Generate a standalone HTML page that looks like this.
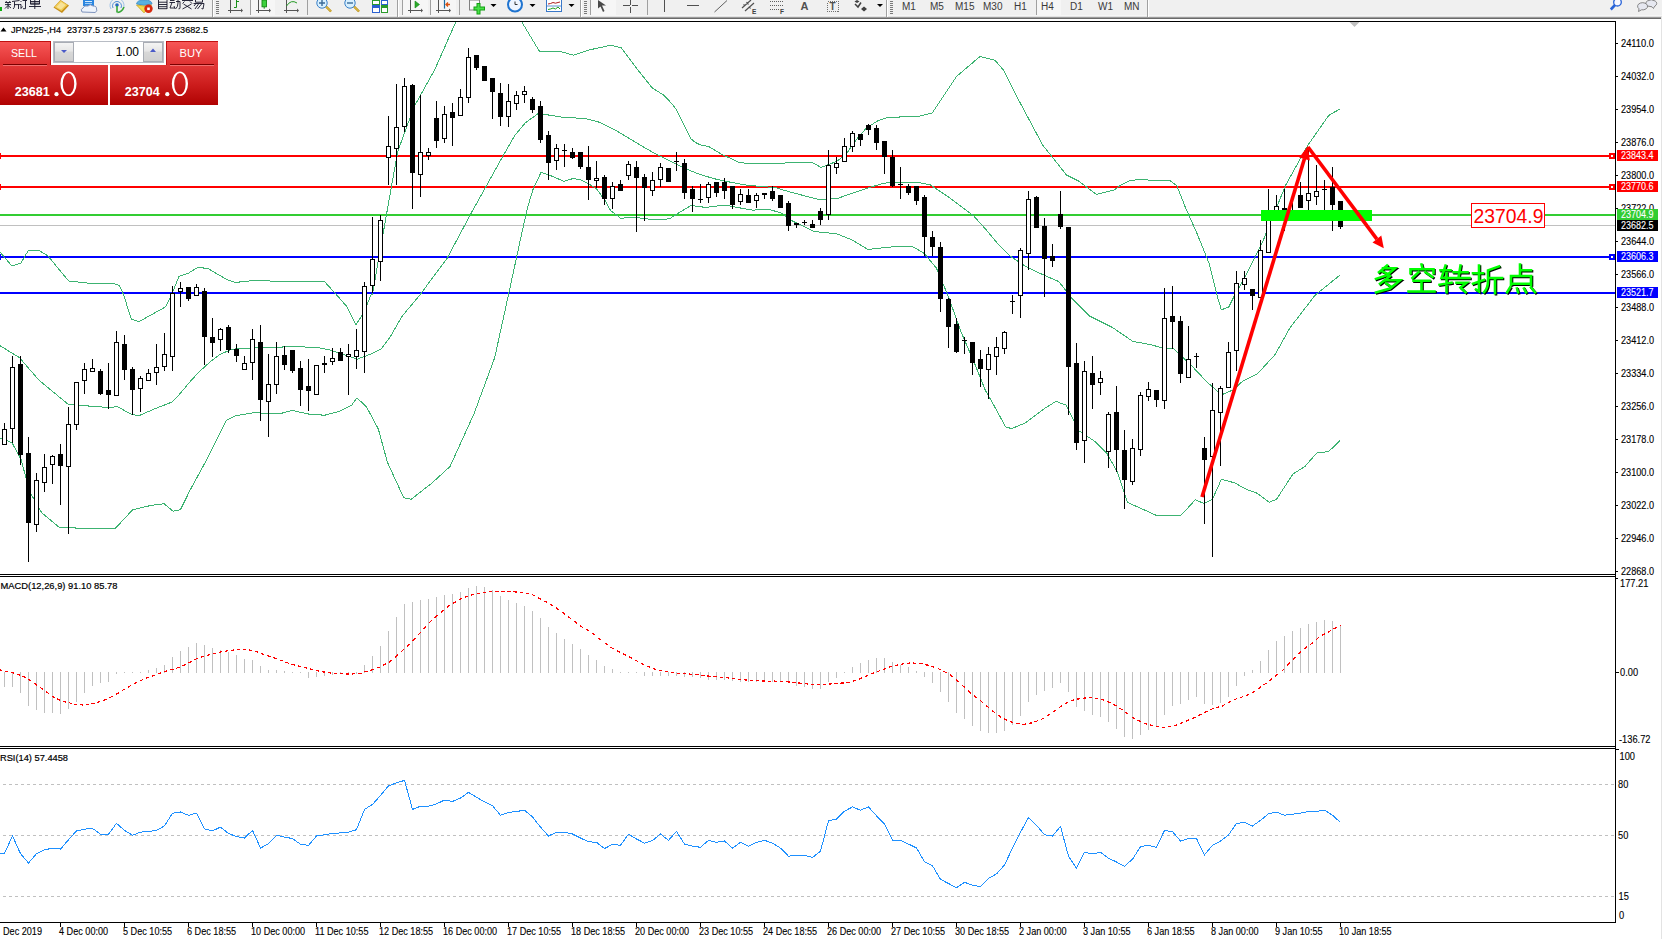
<!DOCTYPE html>
<html><head><meta charset="utf-8"><title>MT4</title><style>
html,body{margin:0;padding:0;width:1662px;height:939px;overflow:hidden;background:#fff;}
svg{position:absolute;left:0;top:0;}
text{font-family:"Liberation Sans",sans-serif;}
</style></head><body>
<svg width="1662" height="939" viewBox="0 0 1662 939">
<defs><clipPath id="cm"><rect x="0" y="22" width="1615" height="552"/></clipPath><clipPath id="cmacd"><rect x="0" y="577" width="1615" height="169"/></clipPath><clipPath id="crsi"><rect x="0" y="749" width="1615" height="173"/></clipPath></defs>
<g id="toolbar">
<rect x="0" y="0" width="1662" height="17" fill="#f0f0f0"/>
<rect x="0" y="15" width="1662" height="1" fill="#f6f6f6"/>
<rect x="0" y="16" width="1662" height="1" fill="#e2e2e2"/>
<rect x="0" y="17" width="1662" height="1" fill="#9a9a9a"/>
<rect x="0" y="18" width="1662" height="1" fill="#6a6a6a"/>
<rect x="0" y="19" width="1662" height="2" fill="#ffffff"/>
<!-- pressed buttons (checker look) -->
<g shape-rendering="crispEdges">
 <rect x="251" y="0" width="24" height="15" fill="#f6f6f6"/>
 <rect x="403" y="0" width="25" height="15" fill="#f6f6f6"/>
 <rect x="431" y="0" width="25" height="15" fill="#f6f6f6"/>
 <rect x="591" y="0" width="25" height="15" fill="#f6f6f6"/>
 <rect x="1037" y="0" width="24" height="15" fill="#f6f6f6"/>
</g>
<!-- new order -->
<rect x="0" y="7" width="2" height="4" fill="#10b010"/>
<g fill="none" stroke="#141428" stroke-width="0.9">
 <path d="M5,2.5 H11 M5,4.6 H11 M8,2.5 V9 M8,5.5 L5,8.5 M8,5.5 L11,8 M6,1 L6.5,2 M10,1 L9.5,2 M12,1.5 L19.5,0.5 M14.5,1.5 V6 Q14.5,8 13,9 M14.5,4.6 H19.5 M18.5,4.6 V9"/>
 <path d="M20.5,1 L21.5,2 M19.5,4.5 H21 V8.5 L22.5,6.5 M22.5,0.5 H27 M25.5,0.5 V8.7 H23"/>
 <path d="M30.5,0 V4.2 H39.5 V0 M30.5,1.5 H39.5 M30.5,3.2 H39.5 M29,6.5 H41 M34.8,0 V9"/>
</g>
<!-- book icon -->
<polygon points="53.5,7.5 60.5,0 69,5.5 62,13" fill="#c8901a"/>
<polygon points="54.5,7 60.5,0.5 67.5,5 61.5,11" fill="#f2cf58"/>
<polygon points="56.5,7 61,2 65.5,5 61,9.5" fill="#f8e39a"/>
<!-- cloud icon -->
<rect x="83" y="0" width="11" height="6" fill="#2b86e0"/>
<rect x="85" y="1" width="7" height="1" fill="#d6ecff"/><rect x="85" y="3" width="7" height="1" fill="#9cccf8"/>
<path d="M82,12 Q80,9 83,8 Q84,5 88,6 Q90,3.5 93,6 Q97,6 96.5,9 Q98,11 95,12.5 Z" fill="#eef3fb" stroke="#7f94bd" stroke-width="1"/>
<!-- signal icon -->
<g fill="none" stroke-width="1">
 <path d="M111,9 A7,7 0 1 1 123,9" stroke="#9fc2e8"/>
 <path d="M113,8 A4.5,4.5 0 1 1 121,8" stroke="#4f8fd4"/>
</g>
<circle cx="117" cy="5" r="1.8" fill="#2468c0"/>
<path d="M117,6 V12.5 M117.5,12.5 Q122,12 124,7" fill="none" stroke="#38a838" stroke-width="1.6"/>
<!-- autotrading icon -->
<path d="M136.5,4 Q137,0 144,0 Q152,0 152,4 Q144,6.5 136.5,4 Z" fill="#58b0e0" stroke="#3a8cc8" stroke-width="0.8"/>
<path d="M136.5,5 Q144,7 151.5,5 L144,12.8 Z" fill="#f2dc50" stroke="#c8a018" stroke-width="0.8"/>
<circle cx="148.5" cy="8.8" r="4.2" fill="#d82a10"/>
<rect x="147.2" y="7.5" width="2.6" height="2.6" fill="#fff"/>
<!-- autotrading text -->
<g fill="none" stroke="#141428" stroke-width="0.9">
 <path d="M158.5,0 V9 M167,0 V9 M158.5,2.2 H167 M158.5,4.5 H167 M158.5,6.7 H167 M158.5,8.7 H167"/>
 <path d="M170,0.5 H174.5 M169.5,2.5 H175 M172,2.5 L170,8 H175 M174,6 L175,8.5 M176,1.5 H180 V8 Q180,9 178.5,8.8 M178,0 V3 Q178,7 175.5,9"/>
 <path d="M182,0.5 H193 M184.5,1.5 L182.5,3.5 M190,1.5 L192,3.5 M183.5,4 L191.5,9 M191.5,4 L182.5,9"/>
 <path d="M195.5,0 V2.2 H202.5 V0 M193.5,3.5 H204 L203,9 L201.5,8.5 M196,3.5 L194,6 M198.5,4 L195,9 M201.5,4 L197.5,9"/>
</g>
<!-- separators -->
<g shape-rendering="crispEdges">
 <rect x="212" y="0" width="1" height="17" fill="#a0a0a0"/><rect x="213" y="0" width="1" height="17" fill="#fff"/>
 <rect x="250" y="0" width="1" height="15" fill="#a0a0a0"/>
 <rect x="307" y="0" width="1" height="15" fill="#a0a0a0"/>
 <rect x="397" y="0" width="1" height="17" fill="#a0a0a0"/><rect x="398" y="0" width="1" height="17" fill="#fff"/>
 <rect x="402" y="0" width="1" height="15" fill="#a0a0a0"/>
 <rect x="430" y="0" width="1" height="15" fill="#a0a0a0"/>
 <rect x="459" y="0" width="1" height="15" fill="#a0a0a0"/>
 <rect x="580" y="0" width="1" height="17" fill="#a0a0a0"/><rect x="581" y="0" width="1" height="17" fill="#fff"/>
 <rect x="590" y="0" width="1" height="15" fill="#a0a0a0"/>
 <rect x="647" y="0" width="1" height="15" fill="#a0a0a0"/>
 <rect x="886" y="0" width="1" height="17" fill="#a0a0a0"/><rect x="887" y="0" width="1" height="17" fill="#fff"/>
 <rect x="1036" y="0" width="1" height="15" fill="#a0a0a0"/>
 <rect x="1147" y="0" width="1" height="17" fill="#a0a0a0"/><rect x="1148" y="0" width="1" height="17" fill="#fff"/>
</g>
<!-- grips -->
<g fill="#7a7a7a" shape-rendering="crispEdges">
 <rect x="216" y="1" width="3" height="1"/><rect x="216" y="3" width="3" height="1"/><rect x="216" y="5" width="3" height="1"/><rect x="216" y="7" width="3" height="1"/><rect x="216" y="9" width="3" height="1"/><rect x="216" y="11" width="3" height="1"/><rect x="216" y="13" width="3" height="1"/>
 <rect x="584" y="1" width="3" height="1"/><rect x="584" y="3" width="3" height="1"/><rect x="584" y="5" width="3" height="1"/><rect x="584" y="7" width="3" height="1"/><rect x="584" y="9" width="3" height="1"/><rect x="584" y="11" width="3" height="1"/><rect x="584" y="13" width="3" height="1"/>
 <rect x="890" y="1" width="3" height="1"/><rect x="890" y="3" width="3" height="1"/><rect x="890" y="5" width="3" height="1"/><rect x="890" y="7" width="3" height="1"/><rect x="890" y="9" width="3" height="1"/><rect x="890" y="11" width="3" height="1"/><rect x="890" y="13" width="3" height="1"/>
</g>
<!-- chart type icons -->
<g fill="none" stroke="#555" stroke-width="1" shape-rendering="crispEdges">
 <path d="M230.5,0 V13 M228,10.5 H241 M258.5,0 V13 M256,10.5 H269 M286.5,0 V13 M284,10.5 H297 M410.5,0 V13 M408,10.5 H421 M438.5,0 V13 M436,10.5 H449"/>
</g>
<g fill="#555">
 <polygon points="241,8.5 243,10.5 241,12.5"/><polygon points="269,8.5 271,10.5 269,12.5"/><polygon points="297,8.5 299,10.5 297,12.5"/>
 <polygon points="421,8.5 423,10.5 421,12.5"/><polygon points="449,8.5 451,10.5 449,12.5"/>
</g>
<path d="M234,7.5 H236.5 V0 M236.5,1.5 H239" fill="none" stroke="#189018" stroke-width="1"/>
<rect x="262" y="0" width="4.5" height="6.8" fill="#3cd03c" stroke="#128812" stroke-width="0.9"/>
<path d="M264.2,6.8 V8.7" stroke="#128812" stroke-width="1"/>
<path d="M286.5,6 Q291,-1 297,3" fill="none" stroke="#229922" stroke-width="1"/>
<polygon points="415,1 419.5,4.5 415,8" fill="#2aa82a" stroke="#168816" stroke-width="0.6"/>
<path d="M444.5,0 V8.6" stroke="#1a6aa0" stroke-width="1.2"/>
<path d="M450,4.5 H446 M448,2.5 L446,4.5 L448,6.5" fill="none" stroke="#d85010" stroke-width="1.3"/>
<!-- zoom icons -->
<g>
 <line x1="326" y1="6.5" x2="331" y2="11.5" stroke="#b88a10" stroke-width="2.4"/>
 <line x1="326" y1="6.5" x2="331" y2="11.5" stroke="#f0d868" stroke-width="1"/>
 <circle cx="322" cy="3" r="5.2" fill="#d8f0ff" stroke="#3a80c8" stroke-width="1"/>
 <path d="M319,3 H325 M322,0 V6" stroke="#3a6a98" stroke-width="1.4"/>
 <line x1="354" y1="6.5" x2="359" y2="11.5" stroke="#b88a10" stroke-width="2.4"/>
 <line x1="354" y1="6.5" x2="359" y2="11.5" stroke="#f0d868" stroke-width="1"/>
 <circle cx="350" cy="3" r="5.2" fill="#d8f0ff" stroke="#3a80c8" stroke-width="1"/>
 <path d="M347,3 H353" stroke="#3a6a98" stroke-width="1.4"/>
</g>
<!-- tile -->
<g shape-rendering="crispEdges">
 <rect x="372" y="0" width="8" height="5" fill="#2a9a2a"/><rect x="373" y="1" width="6" height="3" fill="#fff"/>
 <rect x="381" y="0" width="7" height="5" fill="#2a60d0"/><rect x="382" y="1" width="5" height="3" fill="#fff"/>
 <rect x="372" y="5" width="8" height="8" fill="#2a60d0"/><rect x="373" y="8" width="6" height="4" fill="#fff"/>
 <rect x="381" y="5" width="7" height="8" fill="#2a9a2a"/><rect x="382" y="8" width="5" height="4" fill="#fff"/>
</g>
<!-- indicators -->
<rect x="469.5" y="0" width="10" height="10" fill="#fafafa" stroke="#808080" stroke-width="1"/>
<path d="M473.5,8.5 H485 M478.5,3 V14.5" stroke="#12a012" stroke-width="4"/>
<path d="M474.5,8.5 H484 M478.5,4 V13.5" stroke="#48e048" stroke-width="2"/>
<polygon points="490.5,4 496.5,4 493.5,7" fill="#000"/>
<!-- clock -->
<circle cx="515" cy="4.5" r="7" fill="#eef5ff" stroke="#1f74d0" stroke-width="2"/>
<path d="M515,4.5 V1.5 M515,4.5 H517.5" stroke="#333" stroke-width="1"/>
<polygon points="529.5,4 535.5,4 532.5,7" fill="#000"/>
<!-- templates -->
<rect x="546.5" y="-0.5" width="15" height="12" fill="#fff" stroke="#3a78c8" stroke-width="1"/>
<path d="M547,6 H561" stroke="#3a78c8" stroke-width="0.8"/>
<path d="M548,4 L550.5,3.5 L553,2.5 L555.5,3.2 L558,2.5 L560,2" fill="none" stroke="#b02020" stroke-width="1"/>
<path d="M548,9.5 L550.5,9 L553,8 L555.5,9 L558,7 L560,9" fill="none" stroke="#20a020" stroke-width="1"/>
<polygon points="568.5,4 574.5,4 571.5,7" fill="#000"/>
<!-- drawing tools -->
<polygon points="598,0 598,8.5 600.5,6.5 603,12 604.5,11 602,5.5 606,5.5" fill="#4a4a4a"/>
<path d="M623,5.5 H629.5 M631.5,5.5 H638 M630.5,0 V4.5 M630.5,6.5 V13" stroke="#505050" stroke-width="1" shape-rendering="crispEdges"/>
<path d="M664.5,0 V12" stroke="#505050" stroke-width="1" shape-rendering="crispEdges"/>
<path d="M687,5.5 H699" stroke="#505050" stroke-width="1" shape-rendering="crispEdges"/>
<path d="M714.5,12 L727,0.5" stroke="#606060" stroke-width="1"/>
<path d="M742,8 L751,0 M745,11 L754,3 M743.5,4.5 L745,6 M746.5,2 L748.5,4.5 M749,6.5 L750.5,8.5" stroke="#505050" stroke-width="1.2"/>
<text x="752" y="13.5" font-size="6.5px" font-weight="bold" fill="#404040">E</text>
<path d="M770,1.5 H783 M770,5.5 H783 M770,9.5 H780" stroke="#606060" stroke-width="1" stroke-dasharray="1,1" shape-rendering="crispEdges"/>
<text x="780" y="13.5" font-size="6.5px" font-weight="bold" fill="#404040">F</text>
<text x="800.5" y="10" font-size="11px" font-weight="bold" fill="#505050">A</text>
<rect x="827.5" y="1.5" width="11" height="10" fill="none" stroke="#707070" stroke-width="1" stroke-dasharray="1,1" shape-rendering="crispEdges"/>
<text x="829.5" y="10" font-size="10px" font-weight="bold" fill="#505050">T</text>
<path d="M855,4 L858,7 L861,2.5" fill="none" stroke="#404040" stroke-width="1.5"/>
<polygon points="857,0 859.5,1.5 857,3 854.5,1.5" fill="#404040"/>
<polygon points="864,6.5 867,9 864,11.5 861,9" fill="#404040"/>
<polygon points="877,4 883,4 880,7" fill="#000"/>
<!-- timeframes -->
<g font-size="10px" fill="#3a3a3a">
 <text x="902" y="10">M1</text><text x="930" y="10">M5</text><text x="955" y="10">M15</text><text x="983" y="10">M30</text>
 <text x="1014" y="10">H1</text><text x="1041" y="10">H4</text><text x="1070" y="10">D1</text><text x="1098" y="10">W1</text>
 <text x="1124" y="10">MN</text>
</g>
<!-- search + chat -->
<circle cx="1617.5" cy="2.2" r="3.8" fill="#f8f8ff" stroke="#2a64d8" stroke-width="1.3"/>
<path d="M1615,5 L1610.8,9.5" stroke="#2a64d8" stroke-width="2.6"/>
<path d="M1647.5,6 A5.5,3.5 0 1 1 1655,6 Q1654,7 1653.5,8.5 L1652,6.8 Z" fill="#e6e8f0" stroke="#7a7a7a" stroke-width="0.9"/>
<path d="M1638.5,11.5 L1639,8.8 A5,3.6 0 1 1 1641.5,9.8 Z" fill="#e6e8f0" stroke="#7a7a7a" stroke-width="0.9"/>
</g>
<g shape-rendering="crispEdges" fill="#000"><rect x="0" y="21" width="1616" height="1"/><rect x="0" y="574" width="1616" height="1"/><rect x="0" y="576" width="1616" height="1"/><rect x="0" y="746" width="1616" height="1"/><rect x="0" y="748" width="1616" height="1"/><rect x="0" y="922" width="1616" height="1"/><rect x="1615" y="21" width="1" height="902"/><rect x="1661" y="17" width="1" height="922" fill="#e3e3e3"/></g>
<g shape-rendering="crispEdges" fill="#000"><rect x="1616" y="43" width="2" height="1"/><rect x="1616" y="76" width="2" height="1"/><rect x="1616" y="109" width="2" height="1"/><rect x="1616" y="142" width="2" height="1"/><rect x="1616" y="175" width="2" height="1"/><rect x="1616" y="208" width="2" height="1"/><rect x="1616" y="241" width="2" height="1"/><rect x="1616" y="274" width="2" height="1"/><rect x="1616" y="307" width="2" height="1"/><rect x="1616" y="340" width="2" height="1"/><rect x="1616" y="373" width="2" height="1"/><rect x="1616" y="406" width="2" height="1"/><rect x="1616" y="439" width="2" height="1"/><rect x="1616" y="472" width="2" height="1"/><rect x="1616" y="505" width="2" height="1"/><rect x="1616" y="538" width="2" height="1"/><rect x="1616" y="571" width="2" height="1"/><rect x="1616" y="578" width="2" height="1"/><rect x="1616" y="672" width="3" height="1"/><rect x="1616" y="749" width="3" height="1"/><rect x="60" y="923" width="1" height="4"/><rect x="124" y="923" width="1" height="4"/><rect x="188" y="923" width="1" height="4"/><rect x="252" y="923" width="1" height="4"/><rect x="316" y="923" width="1" height="4"/><rect x="380" y="923" width="1" height="4"/><rect x="444" y="923" width="1" height="4"/><rect x="508" y="923" width="1" height="4"/><rect x="572" y="923" width="1" height="4"/><rect x="636" y="923" width="1" height="4"/><rect x="700" y="923" width="1" height="4"/><rect x="764" y="923" width="1" height="4"/><rect x="828" y="923" width="1" height="4"/><rect x="892" y="923" width="1" height="4"/><rect x="956" y="923" width="1" height="4"/><rect x="1020" y="923" width="1" height="4"/><rect x="1084" y="923" width="1" height="4"/><rect x="1148" y="923" width="1" height="4"/><rect x="1212" y="923" width="1" height="4"/><rect x="1276" y="923" width="1" height="4"/><rect x="1340" y="923" width="1" height="4"/></g>
<g font-size="10.2px" fill="#000" stroke="#000" stroke-width="0.12"><text x="1621" y="46.9" textLength="33" lengthAdjust="spacingAndGlyphs" font-size="10.4px">24110.0</text><text x="1621" y="79.9" textLength="33" lengthAdjust="spacingAndGlyphs" font-size="10.4px">24032.0</text><text x="1621" y="112.9" textLength="33" lengthAdjust="spacingAndGlyphs" font-size="10.4px">23954.0</text><text x="1621" y="145.9" textLength="33" lengthAdjust="spacingAndGlyphs" font-size="10.4px">23876.0</text><text x="1621" y="178.9" textLength="33" lengthAdjust="spacingAndGlyphs" font-size="10.4px">23800.0</text><text x="1621" y="211.9" textLength="33" lengthAdjust="spacingAndGlyphs" font-size="10.4px">23722.0</text><text x="1621" y="244.9" textLength="33" lengthAdjust="spacingAndGlyphs" font-size="10.4px">23644.0</text><text x="1621" y="277.9" textLength="33" lengthAdjust="spacingAndGlyphs" font-size="10.4px">23566.0</text><text x="1621" y="310.9" textLength="33" lengthAdjust="spacingAndGlyphs" font-size="10.4px">23488.0</text><text x="1621" y="343.9" textLength="33" lengthAdjust="spacingAndGlyphs" font-size="10.4px">23412.0</text><text x="1621" y="376.9" textLength="33" lengthAdjust="spacingAndGlyphs" font-size="10.4px">23334.0</text><text x="1621" y="409.9" textLength="33" lengthAdjust="spacingAndGlyphs" font-size="10.4px">23256.0</text><text x="1621" y="442.9" textLength="33" lengthAdjust="spacingAndGlyphs" font-size="10.4px">23178.0</text><text x="1621" y="475.9" textLength="33" lengthAdjust="spacingAndGlyphs" font-size="10.4px">23100.0</text><text x="1621" y="508.9" textLength="33" lengthAdjust="spacingAndGlyphs" font-size="10.4px">23022.0</text><text x="1621" y="541.9" textLength="33" lengthAdjust="spacingAndGlyphs" font-size="10.4px">22946.0</text><text x="1621" y="574.9" textLength="33" lengthAdjust="spacingAndGlyphs" font-size="10.4px">22868.0</text><text x="1620.0" y="586.5" textLength="28.4" lengthAdjust="spacingAndGlyphs">177.21</text><text x="1620.0" y="675.8" textLength="18.1" lengthAdjust="spacingAndGlyphs">0.00</text><text x="1619.0" y="743.2" textLength="31.5" lengthAdjust="spacingAndGlyphs">-136.72</text><text x="1619.5" y="759.6" textLength="15.5" lengthAdjust="spacingAndGlyphs">100</text><text x="1618.0" y="788.2" textLength="10.3" lengthAdjust="spacingAndGlyphs">80</text><text x="1618.0" y="839.2" textLength="10.3" lengthAdjust="spacingAndGlyphs">50</text><text x="1618.5" y="900.2" textLength="10.3" lengthAdjust="spacingAndGlyphs">15</text><text x="1619.0" y="919.3" textLength="5.2" lengthAdjust="spacingAndGlyphs">0</text><text x="3" y="935" font-size="10.2px" textLength="39.0" lengthAdjust="spacingAndGlyphs">Dec 2019</text><text x="59" y="935" font-size="10.2px" textLength="49.1" lengthAdjust="spacingAndGlyphs">4 Dec 00:00</text><text x="123" y="935" font-size="10.2px" textLength="49.1" lengthAdjust="spacingAndGlyphs">5 Dec 10:55</text><text x="187" y="935" font-size="10.2px" textLength="49.1" lengthAdjust="spacingAndGlyphs">6 Dec 18:55</text><text x="251" y="935" font-size="10.2px" textLength="54.1" lengthAdjust="spacingAndGlyphs">10 Dec 00:00</text><text x="315" y="935" font-size="10.2px" textLength="53.5" lengthAdjust="spacingAndGlyphs">11 Dec 10:55</text><text x="379" y="935" font-size="10.2px" textLength="54.1" lengthAdjust="spacingAndGlyphs">12 Dec 18:55</text><text x="443" y="935" font-size="10.2px" textLength="54.1" lengthAdjust="spacingAndGlyphs">16 Dec 00:00</text><text x="507" y="935" font-size="10.2px" textLength="54.1" lengthAdjust="spacingAndGlyphs">17 Dec 10:55</text><text x="571" y="935" font-size="10.2px" textLength="54.1" lengthAdjust="spacingAndGlyphs">18 Dec 18:55</text><text x="635" y="935" font-size="10.2px" textLength="54.1" lengthAdjust="spacingAndGlyphs">20 Dec 00:00</text><text x="699" y="935" font-size="10.2px" textLength="54.1" lengthAdjust="spacingAndGlyphs">23 Dec 10:55</text><text x="763" y="935" font-size="10.2px" textLength="54.1" lengthAdjust="spacingAndGlyphs">24 Dec 18:55</text><text x="827" y="935" font-size="10.2px" textLength="54.1" lengthAdjust="spacingAndGlyphs">26 Dec 00:00</text><text x="891" y="935" font-size="10.2px" textLength="54.1" lengthAdjust="spacingAndGlyphs">27 Dec 10:55</text><text x="955" y="935" font-size="10.2px" textLength="54.1" lengthAdjust="spacingAndGlyphs">30 Dec 18:55</text><text x="1019" y="935" font-size="10.2px" textLength="47.6" lengthAdjust="spacingAndGlyphs">2 Jan 00:00</text><text x="1083" y="935" font-size="10.2px" textLength="47.6" lengthAdjust="spacingAndGlyphs">3 Jan 10:55</text><text x="1147" y="935" font-size="10.2px" textLength="47.6" lengthAdjust="spacingAndGlyphs">6 Jan 18:55</text><text x="1211" y="935" font-size="10.2px" textLength="47.6" lengthAdjust="spacingAndGlyphs">8 Jan 00:00</text><text x="1275" y="935" font-size="10.2px" textLength="47.6" lengthAdjust="spacingAndGlyphs">9 Jan 10:55</text><text x="1339" y="935" font-size="10.2px" textLength="52.6" lengthAdjust="spacingAndGlyphs">10 Jan 18:55</text></g>
<g clip-path="url(#cm)">
<g shape-rendering="crispEdges"><rect x="0" y="225" width="1615" height="1" fill="#c0c0c0"/><rect x="0" y="155" width="1615" height="2" fill="#ff0000"/><rect x="0" y="186" width="1615" height="2" fill="#ff0000"/><rect x="0" y="214" width="1615" height="2" fill="#32cd32"/><rect x="0" y="256" width="1615" height="2" fill="#0000ff"/><rect x="0" y="292" width="1615" height="2" fill="#0000ff"/></g>
<polyline points="0.0,252.0 11.9,266.0 20.9,263.0 28.3,250.5 38.8,250.5 47.7,255.6 68.6,281.0 86.5,283.0 114.8,284.0 119.3,285.4 123.7,295.0 131.2,318.9 138.7,321.8 165.5,306.9 171.5,295.0 178.9,276.4 187.9,273.5 198.3,267.0 208.7,269.0 226.6,279.4 235.6,282.4 256.4,280.3 280.0,281.5 324.7,281.8 336.7,295.0 347.1,306.9 356.0,324.8 363.5,312.9 371.0,295.0 372.4,294.3 382.9,234.7 390.3,193.0 397.8,151.2 414.2,106.5 435.0,69.2 456.0,21.5" fill="none" stroke="#3cb371" stroke-width="1" shape-rendering="crispEdges"/>
<polyline points="521.5,21.5 539.4,51.3 560.0,51.3 573.4,55.2 589.8,49.8 610.7,45.3 621.1,47.7 637.9,70.0 652.4,88.1 664.0,95.3 668.6,100.0 676.0,108.9 683.5,123.8 690.9,138.7 695.4,142.5 700.0,144.7 709.3,146.8 722.1,154.5 740.0,162.8 752.8,163.5 792.0,162.9 812.9,162.9 821.1,167.4 836.7,161.4 845.7,154.7 856.1,139.8 866.6,127.9 878.5,120.4 888.9,117.2 917.3,116.7 932.2,113.0 956.3,76.7 980.1,56.4 995.1,60.3 1004.0,70.7 1018.9,100.5 1042.8,145.2 1066.6,175.1 1078.5,181.0 1096.4,194.4 1114.3,190.0 1120.0,185.5 1128.9,181.0 1137.9,179.5 1155.8,180.4 1169.2,180.1 1176.7,185.5 1185.6,207.9 1197.5,234.7 1209.5,264.5 1216.9,295.0 1221.4,309.9 1228.8,306.9 1234.8,295.0 1245.2,276.4 1263.1,240.7 1285.5,185.5 1307.9,145.2 1328.7,115.4 1340.1,108.9" fill="none" stroke="#3cb371" stroke-width="1" shape-rendering="crispEdges"/>
<polyline points="0.0,345.7 19.4,357.6 38.8,380.0 68.6,404.7 79.0,405.3 107.3,407.4 117.8,406.8 131.2,414.3 138.7,415.8 153.4,409.4 172.5,401.8 180.6,393.0 189.6,382.2 198.7,372.3 209.6,362.3 220.4,354.2 232.3,349.2 253.5,347.8 280.0,347.2 292.0,346.3 318.8,347.8 330.7,350.2 348.6,356.1 357.5,359.1 369.5,354.6 381.4,348.7 390.3,336.7 402.3,315.9 418.7,296.5 447.0,258.5 470.8,213.8 504.0,154.2 514.9,135.2 525.7,122.5 538.4,113.4 563.7,117.4 585.4,118.5 600.0,122.4 614.9,129.8 629.8,138.7 644.7,147.7 656.6,154.4 667.0,159.6 683.5,167.8 692.4,171.5 700.0,174.5 714.5,178.8 732.3,182.6 747.0,185.2 775.8,187.7 788.6,191.6 808.0,196.7 818.8,199.5 836.7,198.7 851.6,193.5 869.5,187.5 884.5,183.1 896.4,182.3 917.3,182.3 930.4,184.9 948.8,197.2 973.3,215.5 985.5,229.0 997.8,243.7 1010.0,256.0 1024.7,265.8 1039.4,273.1 1059.0,281.7 1071.3,297.9 1089.2,315.8 1112.2,327.3 1132.7,341.3 1153.1,345.2 1163.3,348.5 1173.6,348.5 1191.5,365.6 1206.5,381.5 1221.4,394.9 1233.3,389.8 1242.3,381.5 1257.2,374.0 1275.1,354.6 1290.0,327.8 1315.3,295.0 1340.1,275.0" fill="none" stroke="#3cb371" stroke-width="1" shape-rendering="crispEdges"/>
<polyline points="0.0,438.0 11.9,442.6 20.9,459.0 29.8,491.8 41.7,512.7 59.6,527.6 114.8,529.0 132.7,509.7 152.0,505.2 164.0,503.7 173.0,511.2 180.4,509.7 190.8,488.8 208.7,456.0 226.6,420.2 235.6,415.8 253.5,412.8 280.0,413.7 292.0,410.4 309.8,414.3 324.7,415.2 339.6,411.3 351.6,405.3 356.9,397.9 366.5,406.8 378.4,429.2 387.3,462.0 403.7,497.8 411.2,499.3 432.1,482.9 450.0,466.5 473.8,414.3 494.7,357.6 508.1,296.5 520.3,240.0 527.5,207.6 533.0,189.5 541.1,172.3 549.2,175.0 563.7,181.3 572.8,178.6 580.0,179.5 589.0,184.0 596.3,188.6 605.4,201.0 610.4,210.3 620.9,218.5 625.3,217.7 637.3,217.7 649.2,219.2 661.1,220.0 670.0,218.5 680.5,211.8 690.9,205.5 700.0,206.6 705.5,207.5 724.7,205.0 737.5,207.5 752.8,210.1 769.4,209.5 782.2,213.3 789.9,219.7 808.0,228.6 814.4,231.5 836.7,233.8 851.6,239.7 868.0,249.4 896.4,246.4 912.0,246.2 924.3,253.5 936.5,268.2 948.8,297.6 961.0,331.9 975.7,366.2 985.5,390.7 996.5,410.0 1005.5,426.8 1011.5,428.6 1024.9,423.2 1045.7,407.7 1056.0,401.4 1066.2,405.2 1079.0,430.8 1094.3,441.0 1107.1,453.8 1117.3,471.7 1127.6,502.4 1155.7,515.1 1181.2,515.1 1195.3,499.8 1204.2,503.6 1212.4,499.3 1221.4,479.3 1234.8,482.9 1245.2,488.8 1257.2,493.3 1269.1,502.2 1276.5,499.3 1293.0,473.9 1304.9,466.5 1316.8,453.0 1328.7,451.5 1340.1,440.5" fill="none" stroke="#3cb371" stroke-width="1" shape-rendering="crispEdges"/>
<g shape-rendering="crispEdges" fill="#000">
<rect x="4" y="423" width="1" height="22"/>
<rect x="2" y="429" width="5" height="16"/>
<rect x="3" y="430" width="3" height="14" fill="#fff"/>
<rect x="12" y="356" width="1" height="87"/>
<rect x="10" y="367" width="5" height="62"/>
<rect x="11" y="368" width="3" height="60" fill="#fff"/>
<rect x="20" y="356" width="1" height="109"/>
<rect x="18" y="364" width="5" height="91"/>
<rect x="28" y="437" width="1" height="125"/>
<rect x="26" y="453" width="5" height="70"/>
<rect x="36" y="473" width="1" height="59"/>
<rect x="34" y="480" width="5" height="45"/>
<rect x="35" y="481" width="3" height="43" fill="#fff"/>
<rect x="44" y="454" width="1" height="38"/>
<rect x="42" y="467" width="5" height="16"/>
<rect x="43" y="468" width="3" height="14" fill="#fff"/>
<rect x="52" y="455" width="1" height="29"/>
<rect x="50" y="456" width="5" height="9"/>
<rect x="51" y="457" width="3" height="7" fill="#fff"/>
<rect x="60" y="444" width="1" height="61"/>
<rect x="58" y="454" width="5" height="12"/>
<rect x="68" y="407" width="1" height="127"/>
<rect x="66" y="424" width="5" height="43"/>
<rect x="67" y="425" width="3" height="41" fill="#fff"/>
<rect x="76" y="382" width="1" height="48"/>
<rect x="74" y="382" width="5" height="43"/>
<rect x="75" y="383" width="3" height="41" fill="#fff"/>
<rect x="84" y="363" width="1" height="31"/>
<rect x="82" y="369" width="5" height="12"/>
<rect x="83" y="370" width="3" height="10" fill="#fff"/>
<rect x="92" y="359" width="1" height="13"/>
<rect x="90" y="368" width="5" height="4"/>
<rect x="91" y="369" width="3" height="2" fill="#fff"/>
<rect x="100" y="369" width="1" height="26"/>
<rect x="98" y="371" width="5" height="23"/>
<rect x="108" y="363" width="1" height="46"/>
<rect x="106" y="390" width="5" height="5"/>
<rect x="116" y="331" width="1" height="65"/>
<rect x="114" y="342" width="5" height="54"/>
<rect x="115" y="343" width="3" height="52" fill="#fff"/>
<rect x="124" y="335" width="1" height="45"/>
<rect x="122" y="344" width="5" height="26"/>
<rect x="132" y="367" width="1" height="48"/>
<rect x="130" y="369" width="5" height="21"/>
<rect x="140" y="376" width="1" height="36"/>
<rect x="138" y="378" width="5" height="11"/>
<rect x="139" y="379" width="3" height="9" fill="#fff"/>
<rect x="148" y="369" width="1" height="12"/>
<rect x="146" y="373" width="5" height="8"/>
<rect x="147" y="374" width="3" height="6" fill="#fff"/>
<rect x="156" y="344" width="1" height="41"/>
<rect x="154" y="367" width="5" height="6"/>
<rect x="155" y="368" width="3" height="4" fill="#fff"/>
<rect x="164" y="333" width="1" height="38"/>
<rect x="162" y="354" width="5" height="13"/>
<rect x="163" y="355" width="3" height="11" fill="#fff"/>
<rect x="172" y="286" width="1" height="85"/>
<rect x="170" y="293" width="5" height="64"/>
<rect x="171" y="294" width="3" height="62" fill="#fff"/>
<rect x="180" y="282" width="1" height="25"/>
<rect x="178" y="288" width="5" height="4"/>
<rect x="179" y="289" width="3" height="2" fill="#fff"/>
<rect x="188" y="287" width="1" height="14"/>
<rect x="186" y="287" width="5" height="12"/>
<rect x="196" y="284" width="1" height="12"/>
<rect x="194" y="287" width="5" height="9"/>
<rect x="195" y="288" width="3" height="7" fill="#fff"/>
<rect x="204" y="288" width="1" height="77"/>
<rect x="202" y="291" width="5" height="46"/>
<rect x="212" y="318" width="1" height="39"/>
<rect x="210" y="337" width="5" height="6"/>
<rect x="220" y="328" width="1" height="23"/>
<rect x="218" y="329" width="5" height="11"/>
<rect x="219" y="330" width="3" height="9" fill="#fff"/>
<rect x="228" y="325" width="1" height="28"/>
<rect x="226" y="327" width="5" height="23"/>
<rect x="236" y="344" width="1" height="18"/>
<rect x="234" y="349" width="5" height="7"/>
<rect x="244" y="356" width="1" height="14"/>
<rect x="242" y="363" width="5" height="7"/>
<rect x="243" y="364" width="3" height="5" fill="#fff"/>
<rect x="252" y="329" width="1" height="51"/>
<rect x="250" y="339" width="5" height="24"/>
<rect x="251" y="340" width="3" height="22" fill="#fff"/>
<rect x="260" y="325" width="1" height="96"/>
<rect x="258" y="342" width="5" height="58"/>
<rect x="268" y="354" width="1" height="83"/>
<rect x="266" y="384" width="5" height="18"/>
<rect x="267" y="385" width="3" height="16" fill="#fff"/>
<rect x="276" y="342" width="1" height="52"/>
<rect x="274" y="356" width="5" height="29"/>
<rect x="275" y="357" width="3" height="27" fill="#fff"/>
<rect x="284" y="346" width="1" height="24"/>
<rect x="282" y="355" width="5" height="10"/>
<rect x="292" y="350" width="1" height="23"/>
<rect x="290" y="350" width="5" height="21"/>
<rect x="300" y="361" width="1" height="45"/>
<rect x="298" y="368" width="5" height="22"/>
<rect x="308" y="359" width="1" height="52"/>
<rect x="306" y="386" width="5" height="5"/>
<rect x="316" y="365" width="1" height="30"/>
<rect x="314" y="365" width="5" height="30"/>
<rect x="315" y="366" width="3" height="28" fill="#fff"/>
<rect x="324" y="356" width="1" height="17"/>
<rect x="322" y="363" width="5" height="2"/>
<rect x="332" y="348" width="1" height="17"/>
<rect x="330" y="358" width="5" height="4"/>
<rect x="331" y="359" width="3" height="2" fill="#fff"/>
<rect x="340" y="348" width="1" height="13"/>
<rect x="338" y="352" width="5" height="9"/>
<rect x="348" y="344" width="1" height="51"/>
<rect x="346" y="354" width="5" height="3"/>
<rect x="347" y="355" width="3" height="1" fill="#fff"/>
<rect x="356" y="329" width="1" height="40"/>
<rect x="354" y="350" width="5" height="7"/>
<rect x="355" y="351" width="3" height="5" fill="#fff"/>
<rect x="364" y="282" width="1" height="91"/>
<rect x="362" y="286" width="5" height="66"/>
<rect x="363" y="287" width="3" height="64" fill="#fff"/>
<rect x="372" y="217" width="1" height="76"/>
<rect x="370" y="259" width="5" height="27"/>
<rect x="371" y="260" width="3" height="25" fill="#fff"/>
<rect x="380" y="215" width="1" height="66"/>
<rect x="378" y="220" width="5" height="42"/>
<rect x="379" y="221" width="3" height="40" fill="#fff"/>
<rect x="388" y="116" width="1" height="69"/>
<rect x="386" y="146" width="5" height="12"/>
<rect x="387" y="147" width="3" height="10" fill="#fff"/>
<rect x="396" y="84" width="1" height="101"/>
<rect x="394" y="127" width="5" height="22"/>
<rect x="395" y="128" width="3" height="20" fill="#fff"/>
<rect x="404" y="78" width="1" height="54"/>
<rect x="402" y="86" width="5" height="41"/>
<rect x="403" y="87" width="3" height="39" fill="#fff"/>
<rect x="412" y="84" width="1" height="125"/>
<rect x="410" y="85" width="5" height="88"/>
<rect x="420" y="95" width="1" height="102"/>
<rect x="418" y="152" width="5" height="23"/>
<rect x="419" y="153" width="3" height="21" fill="#fff"/>
<rect x="428" y="148" width="1" height="12"/>
<rect x="426" y="152" width="5" height="4"/>
<rect x="427" y="153" width="3" height="2" fill="#fff"/>
<rect x="436" y="101" width="1" height="47"/>
<rect x="434" y="118" width="5" height="23"/>
<rect x="444" y="106" width="1" height="37"/>
<rect x="442" y="114" width="5" height="25"/>
<rect x="443" y="115" width="3" height="23" fill="#fff"/>
<rect x="452" y="103" width="1" height="43"/>
<rect x="450" y="112" width="5" height="6"/>
<rect x="460" y="89" width="1" height="27"/>
<rect x="458" y="97" width="5" height="19"/>
<rect x="459" y="98" width="3" height="17" fill="#fff"/>
<rect x="468" y="48" width="1" height="55"/>
<rect x="466" y="57" width="5" height="41"/>
<rect x="467" y="58" width="3" height="39" fill="#fff"/>
<rect x="476" y="55" width="1" height="15"/>
<rect x="474" y="55" width="5" height="13"/>
<rect x="484" y="66" width="1" height="15"/>
<rect x="482" y="66" width="5" height="15"/>
<rect x="492" y="78" width="1" height="41"/>
<rect x="490" y="78" width="5" height="14"/>
<rect x="500" y="83" width="1" height="43"/>
<rect x="498" y="93" width="5" height="24"/>
<rect x="508" y="84" width="1" height="43"/>
<rect x="506" y="101" width="5" height="16"/>
<rect x="507" y="102" width="3" height="14" fill="#fff"/>
<rect x="516" y="91" width="1" height="19"/>
<rect x="514" y="95" width="5" height="9"/>
<rect x="515" y="96" width="3" height="7" fill="#fff"/>
<rect x="524" y="86" width="1" height="17"/>
<rect x="522" y="91" width="5" height="4"/>
<rect x="523" y="92" width="3" height="2" fill="#fff"/>
<rect x="532" y="97" width="1" height="16"/>
<rect x="530" y="99" width="5" height="11"/>
<rect x="540" y="101" width="1" height="42"/>
<rect x="538" y="106" width="5" height="34"/>
<rect x="548" y="131" width="1" height="49"/>
<rect x="546" y="135" width="5" height="28"/>
<rect x="556" y="144" width="1" height="26"/>
<rect x="554" y="148" width="5" height="13"/>
<rect x="555" y="149" width="3" height="11" fill="#fff"/>
<rect x="564" y="144" width="1" height="23"/>
<rect x="562" y="150" width="5" height="1"/>
<rect x="572" y="148" width="1" height="11"/>
<rect x="570" y="152" width="5" height="6"/>
<rect x="580" y="152" width="1" height="17"/>
<rect x="578" y="152" width="5" height="15"/>
<rect x="588" y="146" width="1" height="54"/>
<rect x="586" y="167" width="5" height="13"/>
<rect x="596" y="161" width="1" height="27"/>
<rect x="594" y="178" width="5" height="3"/>
<rect x="595" y="179" width="3" height="1" fill="#fff"/>
<rect x="604" y="175" width="1" height="30"/>
<rect x="602" y="177" width="5" height="22"/>
<rect x="612" y="182" width="1" height="27"/>
<rect x="610" y="186" width="5" height="13"/>
<rect x="611" y="187" width="3" height="11" fill="#fff"/>
<rect x="620" y="180" width="1" height="11"/>
<rect x="618" y="184" width="5" height="7"/>
<rect x="628" y="161" width="1" height="19"/>
<rect x="626" y="164" width="5" height="12"/>
<rect x="627" y="165" width="3" height="10" fill="#fff"/>
<rect x="636" y="161" width="1" height="71"/>
<rect x="634" y="167" width="5" height="11"/>
<rect x="644" y="174" width="1" height="47"/>
<rect x="642" y="177" width="5" height="11"/>
<rect x="652" y="172" width="1" height="24"/>
<rect x="650" y="180" width="5" height="11"/>
<rect x="651" y="181" width="3" height="9" fill="#fff"/>
<rect x="660" y="163" width="1" height="24"/>
<rect x="658" y="167" width="5" height="13"/>
<rect x="659" y="168" width="3" height="11" fill="#fff"/>
<rect x="668" y="168" width="1" height="14"/>
<rect x="666" y="168" width="5" height="14"/>
<rect x="676" y="152" width="1" height="19"/>
<rect x="674" y="161" width="5" height="1"/>
<rect x="684" y="159" width="1" height="40"/>
<rect x="682" y="163" width="5" height="30"/>
<rect x="692" y="186" width="1" height="26"/>
<rect x="690" y="189" width="5" height="10"/>
<rect x="700" y="184" width="1" height="19"/>
<rect x="698" y="199" width="5" height="1"/>
<rect x="708" y="182" width="1" height="21"/>
<rect x="706" y="184" width="5" height="14"/>
<rect x="707" y="185" width="3" height="12" fill="#fff"/>
<rect x="716" y="182" width="1" height="15"/>
<rect x="714" y="182" width="5" height="11"/>
<rect x="724" y="178" width="1" height="21"/>
<rect x="722" y="182" width="5" height="9"/>
<rect x="732" y="186" width="1" height="23"/>
<rect x="730" y="186" width="5" height="19"/>
<rect x="740" y="189" width="1" height="16"/>
<rect x="738" y="194" width="5" height="8"/>
<rect x="739" y="195" width="3" height="6" fill="#fff"/>
<rect x="748" y="189" width="1" height="14"/>
<rect x="746" y="195" width="5" height="8"/>
<rect x="756" y="193" width="1" height="15"/>
<rect x="754" y="195" width="5" height="6"/>
<rect x="755" y="196" width="3" height="4" fill="#fff"/>
<rect x="764" y="193" width="1" height="6"/>
<rect x="762" y="193" width="5" height="2"/>
<rect x="772" y="186" width="1" height="15"/>
<rect x="770" y="191" width="5" height="8"/>
<rect x="780" y="195" width="1" height="13"/>
<rect x="778" y="195" width="5" height="13"/>
<rect x="788" y="201" width="1" height="30"/>
<rect x="786" y="203" width="5" height="23"/>
<rect x="796" y="223" width="1" height="5"/>
<rect x="794" y="223" width="5" height="2"/>
<rect x="804" y="220" width="1" height="5"/>
<rect x="802" y="222" width="5" height="1"/>
<rect x="812" y="220" width="1" height="8"/>
<rect x="810" y="224" width="5" height="4"/>
<rect x="820" y="208" width="1" height="17"/>
<rect x="818" y="211" width="5" height="9"/>
<rect x="828" y="150" width="1" height="70"/>
<rect x="826" y="165" width="5" height="50"/>
<rect x="827" y="166" width="3" height="48" fill="#fff"/>
<rect x="836" y="157" width="1" height="17"/>
<rect x="834" y="163" width="5" height="5"/>
<rect x="835" y="164" width="3" height="3" fill="#fff"/>
<rect x="844" y="138" width="1" height="24"/>
<rect x="842" y="146" width="5" height="16"/>
<rect x="843" y="147" width="3" height="14" fill="#fff"/>
<rect x="852" y="131" width="1" height="21"/>
<rect x="850" y="133" width="5" height="14"/>
<rect x="851" y="134" width="3" height="12" fill="#fff"/>
<rect x="860" y="134" width="1" height="12"/>
<rect x="858" y="134" width="5" height="6"/>
<rect x="868" y="124" width="1" height="11"/>
<rect x="866" y="125" width="5" height="5"/>
<rect x="876" y="125" width="1" height="25"/>
<rect x="874" y="128" width="5" height="15"/>
<rect x="884" y="141" width="1" height="33"/>
<rect x="882" y="141" width="5" height="16"/>
<rect x="892" y="150" width="1" height="37"/>
<rect x="890" y="157" width="5" height="29"/>
<rect x="900" y="167" width="1" height="32"/>
<rect x="898" y="184" width="5" height="1"/>
<rect x="908" y="184" width="1" height="11"/>
<rect x="906" y="186" width="5" height="7"/>
<rect x="916" y="186" width="1" height="19"/>
<rect x="914" y="186" width="5" height="15"/>
<rect x="924" y="195" width="1" height="61"/>
<rect x="922" y="197" width="5" height="40"/>
<rect x="932" y="231" width="1" height="25"/>
<rect x="930" y="237" width="5" height="10"/>
<rect x="940" y="242" width="1" height="70"/>
<rect x="938" y="247" width="5" height="52"/>
<rect x="948" y="298" width="1" height="50"/>
<rect x="946" y="299" width="5" height="28"/>
<rect x="956" y="318" width="1" height="35"/>
<rect x="954" y="324" width="5" height="28"/>
<rect x="964" y="337" width="1" height="17"/>
<rect x="962" y="340" width="5" height="1"/>
<rect x="972" y="342" width="1" height="33"/>
<rect x="970" y="342" width="5" height="21"/>
<rect x="980" y="350" width="1" height="37"/>
<rect x="978" y="359" width="5" height="10"/>
<rect x="988" y="347" width="1" height="52"/>
<rect x="986" y="354" width="5" height="16"/>
<rect x="987" y="355" width="3" height="14" fill="#fff"/>
<rect x="996" y="337" width="1" height="38"/>
<rect x="994" y="347" width="5" height="10"/>
<rect x="995" y="348" width="3" height="8" fill="#fff"/>
<rect x="1004" y="331" width="1" height="23"/>
<rect x="1002" y="332" width="5" height="17"/>
<rect x="1003" y="333" width="3" height="15" fill="#fff"/>
<rect x="1012" y="295" width="1" height="19"/>
<rect x="1010" y="301" width="5" height="1"/>
<rect x="1020" y="248" width="1" height="70"/>
<rect x="1018" y="250" width="5" height="46"/>
<rect x="1019" y="251" width="3" height="44" fill="#fff"/>
<rect x="1028" y="191" width="1" height="79"/>
<rect x="1026" y="199" width="5" height="55"/>
<rect x="1027" y="200" width="3" height="53" fill="#fff"/>
<rect x="1036" y="196" width="1" height="32"/>
<rect x="1034" y="197" width="5" height="31"/>
<rect x="1044" y="218" width="1" height="79"/>
<rect x="1042" y="226" width="5" height="33"/>
<rect x="1052" y="244" width="1" height="23"/>
<rect x="1050" y="256" width="5" height="5"/>
<rect x="1060" y="191" width="1" height="38"/>
<rect x="1058" y="214" width="5" height="13"/>
<rect x="1068" y="227" width="1" height="188"/>
<rect x="1066" y="227" width="5" height="140"/>
<rect x="1076" y="343" width="1" height="107"/>
<rect x="1074" y="363" width="5" height="80"/>
<rect x="1084" y="361" width="1" height="102"/>
<rect x="1082" y="371" width="5" height="70"/>
<rect x="1083" y="372" width="3" height="68" fill="#fff"/>
<rect x="1092" y="356" width="1" height="53"/>
<rect x="1090" y="373" width="5" height="12"/>
<rect x="1100" y="371" width="1" height="24"/>
<rect x="1098" y="378" width="5" height="5"/>
<rect x="1099" y="379" width="3" height="3" fill="#fff"/>
<rect x="1108" y="412" width="1" height="56"/>
<rect x="1106" y="414" width="5" height="38"/>
<rect x="1107" y="415" width="3" height="36" fill="#fff"/>
<rect x="1116" y="386" width="1" height="86"/>
<rect x="1114" y="412" width="5" height="38"/>
<rect x="1124" y="430" width="1" height="79"/>
<rect x="1122" y="450" width="5" height="30"/>
<rect x="1132" y="439" width="1" height="46"/>
<rect x="1130" y="448" width="5" height="34"/>
<rect x="1131" y="449" width="3" height="32" fill="#fff"/>
<rect x="1140" y="392" width="1" height="64"/>
<rect x="1138" y="395" width="5" height="55"/>
<rect x="1139" y="396" width="3" height="53" fill="#fff"/>
<rect x="1148" y="382" width="1" height="19"/>
<rect x="1146" y="389" width="5" height="8"/>
<rect x="1147" y="390" width="3" height="6" fill="#fff"/>
<rect x="1156" y="390" width="1" height="17"/>
<rect x="1154" y="390" width="5" height="10"/>
<rect x="1164" y="288" width="1" height="121"/>
<rect x="1162" y="318" width="5" height="83"/>
<rect x="1163" y="319" width="3" height="81" fill="#fff"/>
<rect x="1172" y="286" width="1" height="63"/>
<rect x="1170" y="316" width="5" height="6"/>
<rect x="1180" y="316" width="1" height="67"/>
<rect x="1178" y="321" width="5" height="53"/>
<rect x="1188" y="326" width="1" height="52"/>
<rect x="1186" y="359" width="5" height="19"/>
<rect x="1187" y="360" width="3" height="17" fill="#fff"/>
<rect x="1196" y="353" width="1" height="15"/>
<rect x="1194" y="356" width="5" height="1"/>
<rect x="1204" y="437" width="1" height="87"/>
<rect x="1202" y="448" width="5" height="12"/>
<rect x="1212" y="383" width="1" height="174"/>
<rect x="1210" y="410" width="5" height="47"/>
<rect x="1211" y="411" width="3" height="45" fill="#fff"/>
<rect x="1220" y="386" width="1" height="80"/>
<rect x="1218" y="388" width="5" height="25"/>
<rect x="1219" y="389" width="3" height="23" fill="#fff"/>
<rect x="1228" y="342" width="1" height="46"/>
<rect x="1226" y="352" width="5" height="36"/>
<rect x="1227" y="353" width="3" height="34" fill="#fff"/>
<rect x="1236" y="271" width="1" height="100"/>
<rect x="1234" y="283" width="5" height="68"/>
<rect x="1235" y="284" width="3" height="66" fill="#fff"/>
<rect x="1244" y="271" width="1" height="19"/>
<rect x="1242" y="278" width="5" height="7"/>
<rect x="1243" y="279" width="3" height="5" fill="#fff"/>
<rect x="1252" y="289" width="1" height="21"/>
<rect x="1250" y="289" width="5" height="7"/>
<rect x="1260" y="240" width="1" height="58"/>
<rect x="1258" y="250" width="5" height="48"/>
<rect x="1259" y="251" width="3" height="46" fill="#fff"/>
<rect x="1268" y="189" width="1" height="64"/>
<rect x="1266" y="213" width="5" height="40"/>
<rect x="1267" y="214" width="3" height="38" fill="#fff"/>
<rect x="1276" y="195" width="1" height="20"/>
<rect x="1274" y="206" width="5" height="9"/>
<rect x="1275" y="207" width="3" height="7" fill="#fff"/>
<rect x="1284" y="189" width="1" height="42"/>
<rect x="1282" y="208" width="5" height="9"/>
<rect x="1292" y="203" width="1" height="16"/>
<rect x="1290" y="212" width="5" height="5"/>
<rect x="1291" y="213" width="3" height="3" fill="#fff"/>
<rect x="1300" y="182" width="1" height="26"/>
<rect x="1298" y="195" width="5" height="13"/>
<rect x="1308" y="147" width="1" height="63"/>
<rect x="1306" y="193" width="5" height="8"/>
<rect x="1307" y="194" width="3" height="6" fill="#fff"/>
<rect x="1316" y="165" width="1" height="40"/>
<rect x="1314" y="191" width="5" height="6"/>
<rect x="1315" y="192" width="3" height="4" fill="#fff"/>
<rect x="1324" y="180" width="1" height="31"/>
<rect x="1322" y="189" width="5" height="1"/>
<rect x="1332" y="167" width="1" height="64"/>
<rect x="1330" y="187" width="5" height="18"/>
<rect x="1340" y="201" width="1" height="28"/>
<rect x="1338" y="201" width="5" height="26"/>
</g>
<rect x="1261" y="210" width="111" height="11" fill="#00ff00" shape-rendering="crispEdges"/>
<g stroke="#ff0000" stroke-width="3.6" fill="#ff0000" stroke-linecap="butt"><line x1="1202" y1="497" x2="1304.5" y2="158.5"/><line x1="1308" y1="147" x2="1376.9" y2="239.1"/></g><polygon points="1308,146 1309.8,160.5 1299.2,157.5" fill="#ff0000"/><polygon points="1383.8,248.3 1381.3,235.6 1372.5,242.4" fill="#ff0000"/>
<polygon points="1349.5,22 1359.5,22 1354.5,27" fill="#c0c0c0"/>
<rect x="1471.5" y="203.5" width="73" height="24" fill="#fff" stroke="#ff0000" stroke-width="1" shape-rendering="crispEdges"/><text x="1473.5" y="223" font-size="20px" fill="#ff0000" textLength="70" lengthAdjust="spacingAndGlyphs">23704.9</text>
</g>
<rect x="1617" y="150" width="41" height="11" fill="#ff0000" shape-rendering="crispEdges"/><text x="1621" y="159.4" font-size="10.4px" fill="#fff" stroke="#fff" stroke-width="0.1" textLength="32.5" lengthAdjust="spacingAndGlyphs">23843.4</text><rect x="1617" y="181" width="41" height="11" fill="#ff0000" shape-rendering="crispEdges"/><text x="1621" y="190.4" font-size="10.4px" fill="#fff" stroke="#fff" stroke-width="0.1" textLength="32.5" lengthAdjust="spacingAndGlyphs">23770.6</text><rect x="1617" y="209" width="41" height="11" fill="#32cd32" shape-rendering="crispEdges"/><text x="1621" y="218.4" font-size="10.4px" fill="#fff" stroke="#fff" stroke-width="0.1" textLength="32.5" lengthAdjust="spacingAndGlyphs">23704.9</text><rect x="1617" y="220" width="41" height="11" fill="#000000" shape-rendering="crispEdges"/><text x="1621" y="229.4" font-size="10.4px" fill="#fff" stroke="#fff" stroke-width="0.1" textLength="32.5" lengthAdjust="spacingAndGlyphs">23682.5</text><rect x="1617" y="251" width="41" height="11" fill="#0000ff" shape-rendering="crispEdges"/><text x="1621" y="260.4" font-size="10.4px" fill="#fff" stroke="#fff" stroke-width="0.1" textLength="32.5" lengthAdjust="spacingAndGlyphs">23606.3</text><rect x="1617" y="287" width="41" height="11" fill="#0000ff" shape-rendering="crispEdges"/><text x="1621" y="296.4" font-size="10.4px" fill="#fff" stroke="#fff" stroke-width="0.1" textLength="32.5" lengthAdjust="spacingAndGlyphs">23521.7</text><g shape-rendering="crispEdges"><rect x="1609" y="153" width="6" height="6" fill="#ff0000"/><rect x="1611" y="155" width="2" height="2" fill="#fff"/><rect x="1609" y="184" width="6" height="6" fill="#ff0000"/><rect x="1611" y="186" width="2" height="2" fill="#fff"/><rect x="1609" y="254" width="6" height="6" fill="#0000ff"/><rect x="1611" y="256" width="2" height="2" fill="#fff"/><rect x="0" y="153" width="1" height="6" fill="#ff0000"/><rect x="0" y="184" width="1" height="6" fill="#ff0000"/><rect x="0" y="254" width="1" height="6" fill="#0000ff"/></g>
<g clip-path="url(#cmacd)"><g shape-rendering="crispEdges" fill="#c0c0c0"><rect x="4" y="672" width="1" height="15"/>
<rect x="12" y="672" width="1" height="15"/>
<rect x="20" y="672" width="1" height="21"/>
<rect x="28" y="672" width="1" height="34"/>
<rect x="36" y="672" width="1" height="38"/>
<rect x="44" y="672" width="1" height="41"/>
<rect x="52" y="672" width="1" height="41"/>
<rect x="60" y="672" width="1" height="42"/>
<rect x="68" y="672" width="1" height="37"/>
<rect x="76" y="672" width="1" height="30"/>
<rect x="84" y="672" width="1" height="21"/>
<rect x="92" y="672" width="1" height="14"/>
<rect x="100" y="672" width="1" height="11"/>
<rect x="108" y="672" width="1" height="10"/>
<rect x="116" y="672" width="1" height="2"/>
<rect x="124" y="672" width="1" height="1"/>
<rect x="132" y="672" width="1" height="1"/>
<rect x="140" y="672" width="1" height="1"/>
<rect x="148" y="670" width="1" height="3"/>
<rect x="156" y="668" width="1" height="5"/>
<rect x="164" y="665" width="1" height="8"/>
<rect x="172" y="657" width="1" height="16"/>
<rect x="180" y="651" width="1" height="22"/>
<rect x="188" y="647" width="1" height="26"/>
<rect x="196" y="643" width="1" height="30"/>
<rect x="204" y="645" width="1" height="28"/>
<rect x="212" y="648" width="1" height="25"/>
<rect x="220" y="650" width="1" height="23"/>
<rect x="228" y="652" width="1" height="21"/>
<rect x="236" y="655" width="1" height="18"/>
<rect x="244" y="659" width="1" height="14"/>
<rect x="252" y="660" width="1" height="13"/>
<rect x="260" y="666" width="1" height="7"/>
<rect x="268" y="670" width="1" height="3"/>
<rect x="276" y="670" width="1" height="3"/>
<rect x="284" y="671" width="1" height="2"/>
<rect x="292" y="672" width="1" height="1"/>
<rect x="300" y="672" width="1" height="1"/>
<rect x="308" y="672" width="1" height="6"/>
<rect x="316" y="672" width="1" height="5"/>
<rect x="324" y="672" width="1" height="4"/>
<rect x="332" y="672" width="1" height="3"/>
<rect x="340" y="672" width="1" height="2"/>
<rect x="348" y="672" width="1" height="2"/>
<rect x="356" y="672" width="1" height="2"/>
<rect x="364" y="665" width="1" height="8"/>
<rect x="372" y="656" width="1" height="17"/>
<rect x="380" y="646" width="1" height="27"/>
<rect x="388" y="631" width="1" height="42"/>
<rect x="396" y="617" width="1" height="56"/>
<rect x="404" y="604" width="1" height="69"/>
<rect x="412" y="602" width="1" height="71"/>
<rect x="420" y="600" width="1" height="73"/>
<rect x="428" y="599" width="1" height="74"/>
<rect x="436" y="597" width="1" height="76"/>
<rect x="444" y="595" width="1" height="78"/>
<rect x="452" y="594" width="1" height="79"/>
<rect x="460" y="592" width="1" height="81"/>
<rect x="468" y="588" width="1" height="85"/>
<rect x="476" y="586" width="1" height="87"/>
<rect x="484" y="587" width="1" height="86"/>
<rect x="492" y="590" width="1" height="83"/>
<rect x="500" y="596" width="1" height="77"/>
<rect x="508" y="600" width="1" height="73"/>
<rect x="516" y="603" width="1" height="70"/>
<rect x="524" y="606" width="1" height="67"/>
<rect x="532" y="611" width="1" height="62"/>
<rect x="540" y="618" width="1" height="55"/>
<rect x="548" y="627" width="1" height="46"/>
<rect x="556" y="633" width="1" height="40"/>
<rect x="564" y="639" width="1" height="34"/>
<rect x="572" y="644" width="1" height="29"/>
<rect x="580" y="649" width="1" height="24"/>
<rect x="588" y="655" width="1" height="18"/>
<rect x="596" y="660" width="1" height="13"/>
<rect x="604" y="666" width="1" height="7"/>
<rect x="612" y="669" width="1" height="4"/>
<rect x="620" y="672" width="1" height="1"/>
<rect x="628" y="672" width="1" height="1"/>
<rect x="636" y="672" width="1" height="1"/>
<rect x="644" y="672" width="1" height="4"/>
<rect x="652" y="672" width="1" height="4"/>
<rect x="660" y="672" width="1" height="4"/>
<rect x="668" y="672" width="1" height="4"/>
<rect x="676" y="672" width="1" height="4"/>
<rect x="684" y="672" width="1" height="5"/>
<rect x="692" y="672" width="1" height="5"/>
<rect x="700" y="672" width="1" height="6"/>
<rect x="708" y="672" width="1" height="8"/>
<rect x="716" y="672" width="1" height="8"/>
<rect x="724" y="672" width="1" height="8"/>
<rect x="732" y="672" width="1" height="9"/>
<rect x="740" y="672" width="1" height="10"/>
<rect x="748" y="672" width="1" height="10"/>
<rect x="756" y="672" width="1" height="10"/>
<rect x="764" y="672" width="1" height="10"/>
<rect x="772" y="672" width="1" height="10"/>
<rect x="780" y="672" width="1" height="10"/>
<rect x="788" y="672" width="1" height="11"/>
<rect x="796" y="672" width="1" height="14"/>
<rect x="804" y="672" width="1" height="15"/>
<rect x="812" y="672" width="1" height="17"/>
<rect x="820" y="672" width="1" height="17"/>
<rect x="828" y="672" width="1" height="10"/>
<rect x="836" y="672" width="1" height="6"/>
<rect x="844" y="672" width="1" height="1"/>
<rect x="852" y="667" width="1" height="6"/>
<rect x="860" y="663" width="1" height="10"/>
<rect x="868" y="660" width="1" height="13"/>
<rect x="876" y="658" width="1" height="15"/>
<rect x="884" y="658" width="1" height="15"/>
<rect x="892" y="662" width="1" height="11"/>
<rect x="900" y="665" width="1" height="8"/>
<rect x="908" y="667" width="1" height="6"/>
<rect x="916" y="671" width="1" height="2"/>
<rect x="924" y="672" width="1" height="5"/>
<rect x="932" y="672" width="1" height="11"/>
<rect x="940" y="672" width="1" height="20"/>
<rect x="948" y="672" width="1" height="30"/>
<rect x="956" y="672" width="1" height="41"/>
<rect x="964" y="672" width="1" height="47"/>
<rect x="972" y="672" width="1" height="54"/>
<rect x="980" y="672" width="1" height="59"/>
<rect x="988" y="672" width="1" height="61"/>
<rect x="996" y="672" width="1" height="61"/>
<rect x="1004" y="672" width="1" height="59"/>
<rect x="1012" y="672" width="1" height="53"/>
<rect x="1020" y="672" width="1" height="44"/>
<rect x="1028" y="672" width="1" height="30"/>
<rect x="1036" y="672" width="1" height="23"/>
<rect x="1044" y="672" width="1" height="19"/>
<rect x="1052" y="672" width="1" height="16"/>
<rect x="1060" y="672" width="1" height="11"/>
<rect x="1068" y="672" width="1" height="20"/>
<rect x="1076" y="672" width="1" height="35"/>
<rect x="1084" y="672" width="1" height="39"/>
<rect x="1092" y="672" width="1" height="43"/>
<rect x="1100" y="672" width="1" height="45"/>
<rect x="1108" y="672" width="1" height="50"/>
<rect x="1116" y="672" width="1" height="57"/>
<rect x="1124" y="672" width="1" height="65"/>
<rect x="1132" y="672" width="1" height="67"/>
<rect x="1140" y="672" width="1" height="63"/>
<rect x="1148" y="672" width="1" height="58"/>
<rect x="1156" y="672" width="1" height="54"/>
<rect x="1164" y="672" width="1" height="43"/>
<rect x="1172" y="672" width="1" height="34"/>
<rect x="1180" y="672" width="1" height="32"/>
<rect x="1188" y="672" width="1" height="28"/>
<rect x="1196" y="672" width="1" height="25"/>
<rect x="1204" y="672" width="1" height="32"/>
<rect x="1212" y="672" width="1" height="33"/>
<rect x="1220" y="672" width="1" height="31"/>
<rect x="1228" y="672" width="1" height="25"/>
<rect x="1236" y="672" width="1" height="14"/>
<rect x="1244" y="672" width="1" height="4"/>
<rect x="1252" y="670" width="1" height="3"/>
<rect x="1260" y="661" width="1" height="12"/>
<rect x="1268" y="650" width="1" height="23"/>
<rect x="1276" y="641" width="1" height="32"/>
<rect x="1284" y="636" width="1" height="37"/>
<rect x="1292" y="631" width="1" height="42"/>
<rect x="1300" y="628" width="1" height="45"/>
<rect x="1308" y="624" width="1" height="49"/>
<rect x="1316" y="622" width="1" height="51"/>
<rect x="1324" y="620" width="1" height="53"/>
<rect x="1332" y="621" width="1" height="52"/>
<rect x="1340" y="625" width="1" height="48"/></g><path d="M0.0,669.8 L1.9,670.3 M5.8,671.2 L7.8,671.6 M11.6,672.6 L13.6,673.1 M17.4,674.4 L19.3,675.0 M23.1,676.5 L25.0,677.4 M28.8,679.3 L30.7,680.7 M34.6,683.5 L36.6,684.9 M40.6,687.7 L42.5,689.1 M46.4,691.9 L48.3,693.3 M52.1,696.1 L54.0,697.3 M57.8,699.2 L59.7,700.1 M63.5,701.4 L65.4,701.9 M69.2,702.8 L71.1,703.3 M74.8,704.2 L76.8,704.5 M80.5,704.8 L82.5,705.0 M86.2,704.6 L88.2,704.4 M92.0,703.7 L93.9,703.2 M97.6,702.3 L99.7,701.7 M103.9,700.3 L106.0,699.6 M110.1,697.5 L112.1,696.4 M116.2,694.3 L118.3,693.0 M122.3,690.5 L124.4,689.3 M128.4,686.9 L130.4,685.8 M134.5,683.5 L136.5,682.4 M140.5,680.7 L142.6,679.8 M146.6,678.1 L148.6,677.3 M152.7,675.8 L154.7,675.1 M158.7,673.6 L160.8,673.0 M164.8,671.7 L166.8,671.0 M170.8,669.8 L172.9,669.2 M176.9,668.0 L178.9,667.2 M183.0,665.6 L185.0,664.8 M189.0,662.9 L191.0,661.8 M195.1,659.5 L197.1,658.4 M201.1,657.2 L203.2,656.6 M207.2,655.4 L209.2,654.8 M213.3,653.7 L215.3,653.2 M219.3,652.2 L221.3,651.9 M225.4,651.2 L227.4,650.8 M231.5,650.3 L233.5,650.1 M237.6,649.6 L239.6,649.6 M243.7,649.6 L245.7,649.6 M249.7,650.1 L251.8,650.6 M255.8,651.6 L257.8,652.1 M261.8,653.6 L263.9,654.4 M267.9,655.9 L269.9,656.6 M274.0,657.9 L276.0,658.5 M280.0,660.0 L282.1,660.7 M286.1,662.2 L288.1,663.0 M292.1,664.2 L294.2,664.8 M298.2,666.0 L300.2,666.5 M304.3,667.5 L306.3,668.0 M310.3,669.0 L312.3,669.5 M316.4,670.5 L318.4,671.0 M322.4,671.7 L324.5,672.1 M328.5,672.8 L330.5,673.0 M334.6,673.3 L336.6,673.4 M340.6,673.7 L342.6,673.8 M346.7,674.0 L348.7,674.1 M352.8,673.9 L354.8,673.8 M358.9,673.6 L360.9,673.1 M365.0,672.0 L367.0,671.5 M371.0,670.2 L373.1,669.5 M377.1,668.0 L379.1,667.2 M383.1,665.2 L385.2,664.2 M389.2,662.2 L391.2,660.4 M395.3,656.9 L397.3,655.1 M401.3,651.5 L403.3,649.8 M407.4,646.3 L409.4,644.5 M413.1,640.5 L414.9,638.6 M418.6,634.6 L420.4,632.6 M423.9,628.7 L425.7,626.7 M429.2,622.8 L431.1,620.9 M435.1,617.3 L437.2,615.6 M441.2,612.1 L443.2,610.5 M447.3,607.2 L449.3,605.6 M453.3,603.1 L455.4,601.9 M459.4,599.6 L461.4,598.6 M465.4,597.1 L467.5,596.3 M471.5,595.0 L473.6,594.6 M477.6,593.8 L479.7,593.4 M483.7,592.7 L485.8,592.3 M489.8,591.6 L491.8,591.4 M495.9,591.4 L497.9,591.4 M501.9,591.4 L503.9,591.4 M508.0,591.4 L510.0,591.4 M514.0,591.8 L516.1,592.0 M520.1,592.6 L522.1,592.8 M526.2,593.4 L528.2,593.6 M532.2,594.5 L534.2,595.6 M538.3,597.9 L540.3,599.0 M544.3,601.1 L546.4,602.1 M550.4,604.3 L552.4,605.5 M556.5,608.2 L558.5,609.6 M562.5,612.4 L564.5,613.9 M568.6,616.9 L570.6,618.4 M574.6,621.5 L576.7,623.0 M580.7,626.0 L582.7,627.4 M586.8,629.7 L588.8,630.9 M592.8,633.4 L594.9,635.0 M598.9,638.3 L601.0,639.9 M605.0,643.0 L607.1,644.5 M611.1,647.5 L613.1,648.8 M617.2,650.8 L619.2,651.8 M623.2,653.8 L625.2,654.8 M629.3,656.9 L631.3,657.9 M635.3,660.1 L637.4,661.2 M641.4,663.4 L643.4,664.5 M647.5,666.2 L649.5,667.1 M653.5,668.8 L655.5,669.2 M659.6,670.2 L661.6,670.8 M665.6,671.5 L667.7,671.9 M671.7,672.6 L673.7,672.9 M677.8,673.2 L679.8,673.4 M683.8,673.7 L685.8,673.8 M689.9,674.1 L691.9,674.2 M695.9,674.6 L698.0,674.8 M702.0,675.2 L704.0,675.4 M708.0,676.0 L710.1,676.2 M714.1,676.7 L716.2,676.8 M720.2,677.1 L722.3,677.2 M726.3,677.7 L728.4,678.0 M732.4,678.5 L734.4,678.7 M738.5,679.2 L740.5,679.5 M744.5,679.9 L746.5,680.0 M750.6,680.2 L752.6,680.4 M756.6,680.6 L758.7,680.8 M762.7,681.0 L764.7,681.1 M768.8,681.1 L770.8,681.1 M774.8,681.1 L776.8,681.2 M780.9,681.5 L782.9,681.6 M786.9,681.8 L789.0,682.0 M793.0,682.3 L795.0,682.5 M799.0,683.0 L801.1,683.3 M805.1,683.8 L807.1,683.9 M811.2,684.1 L813.2,684.2 M817.2,684.3 L819.3,684.3 M823.3,684.4 L825.3,684.3 M829.2,684.0 L831.2,683.9 M835.1,683.6 L837.1,683.4 M841.0,683.1 L843.0,683.0 M847.1,682.6 L849.1,682.5 M853.1,681.3 L855.2,680.5 M859.2,679.0 L861.2,678.2 M865.2,676.5 L867.3,675.6 M871.3,673.9 L873.3,673.2 M877.4,671.6 L879.4,670.9 M883.4,669.4 L885.5,668.6 M889.5,667.1 L891.5,666.5 M895.6,665.5 L897.6,665.0 M901.7,664.1 L903.7,663.8 M907.8,663.3 L909.8,663.0 M913.8,663.1 L915.9,663.2 M919.9,663.4 L921.9,663.8 M926.0,664.8 L928.0,665.2 M932.0,666.4 L934.0,667.1 M938.1,668.7 L940.1,669.4 M944.1,671.5 L946.2,672.7 M950.2,675.0 L952.2,676.5 M956.2,679.9 L958.3,681.6 M962.3,685.2 L964.3,687.1 M968.4,690.9 L970.4,692.8 M974.4,696.1 L976.5,697.6 M980.5,700.6 L982.5,702.3 M986.5,705.8 L988.6,707.6 M992.6,711.0 L994.6,712.5 M998.7,715.5 L1000.7,717.0 M1004.7,719.1 L1006.8,720.0 M1010.8,721.8 L1012.8,722.5 M1016.9,723.5 L1018.9,723.9 M1023.0,724.4 L1025.0,724.1 M1029.1,723.3 L1031.1,723.0 M1035.1,721.7 L1037.2,720.9 M1041.2,719.4 L1043.2,718.4 M1047.2,715.9 L1049.3,714.6 M1053.3,711.9 L1055.3,710.4 M1059.4,707.4 L1061.4,705.9 M1065.4,703.6 L1067.5,702.6 M1071.5,700.6 L1073.5,699.9 M1077.5,699.1 L1079.6,698.7 M1083.6,698.1 L1085.6,698.0 M1089.7,697.8 L1091.7,697.6 M1095.7,698.2 L1097.8,698.6 M1101.8,699.4 L1103.8,700.0 M1107.8,701.8 L1109.9,702.6 M1113.9,704.5 L1115.9,705.8 M1120.0,708.3 L1122.0,709.6 M1126.0,712.5 L1128.1,714.0 M1132.1,717.0 L1134.1,718.3 M1138.2,720.3 L1140.2,721.3 M1144.3,723.1 L1146.3,723.8 M1150.4,725.1 L1152.4,725.8 M1156.4,726.5 L1158.5,726.8 M1162.5,727.3 L1164.5,727.3 M1168.5,726.8 L1170.6,726.5 M1174.6,725.7 L1176.6,724.9 M1180.7,723.3 L1182.7,722.5 M1186.7,720.8 L1188.8,720.0 M1192.8,718.2 L1194.8,717.3 M1198.8,715.2 L1200.9,714.2 M1204.9,712.2 L1206.9,711.3 M1210.9,709.5 L1212.9,708.6 M1216.8,707.3 L1218.7,706.9 M1222.4,706.0 L1224.5,704.8 M1228.7,702.3 L1230.7,701.3 M1234.5,699.6 L1236.4,698.8 M1240.5,697.5 L1242.6,696.8 M1246.6,695.4 L1248.5,694.5 M1252.2,692.8 L1254.3,691.4 M1258.5,688.5 L1260.5,687.2 M1264.3,684.6 L1266.2,683.3 M1269.9,680.4 L1271.8,678.9 M1275.7,675.8 L1277.8,674.2 M1282.0,671.0 L1283.9,669.0 M1287.6,665.0 L1289.5,663.0 M1293.2,659.2 L1295.1,657.4 M1298.8,653.8 L1300.7,652.0 M1304.4,648.6 L1306.5,647.2 M1310.7,644.3 L1312.7,642.8 M1316.5,639.4 L1318.4,637.7 M1322.5,635.1 L1324.6,634.0 M1328.6,631.8 L1330.5,630.8 M1334.2,628.7 L1336.4,627.7 M1340.7,625.7 L1340.7,625.7" fill="none" stroke="#ff0000" stroke-width="1.2" stroke-linecap="square" shape-rendering="crispEdges"/></g>
<text x="0.5" y="589" font-size="9.5px" fill="#000" stroke="#000" stroke-width="0.2" textLength="117" lengthAdjust="spacingAndGlyphs">MACD(12,26,9) 91.10 85.78</text>
<g clip-path="url(#crsi)"><g stroke="#c0c0c0" stroke-width="1" stroke-dasharray="3,3" shape-rendering="crispEdges"><line x1="3" y1="784.5" x2="1615" y2="784.5"/><line x1="3" y1="835.5" x2="1615" y2="835.5"/><line x1="3" y1="896.5" x2="1615" y2="896.5"/></g><polyline points="0.0,853.2 4.5,853.2 12.5,836.0 20.5,853.7 28.5,863.0 36.5,853.7 44.5,849.9 52.5,848.1 60.5,849.1 68.5,839.8 76.5,830.9 84.5,829.2 92.5,828.4 100.5,834.2 108.5,834.2 116.5,823.3 124.5,830.4 132.5,835.2 140.5,832.2 148.5,831.4 156.5,830.4 164.5,825.9 172.5,813.2 180.5,812.0 188.5,815.3 196.5,813.2 204.5,828.9 212.5,830.9 220.5,827.1 228.5,833.5 236.5,836.5 244.5,838.0 252.5,830.4 260.5,848.1 268.5,843.6 276.5,835.2 284.5,837.2 292.5,838.5 300.5,844.3 308.5,845.3 316.5,836.0 324.5,834.7 332.5,833.5 340.5,832.9 348.5,832.2 356.5,829.7 364.5,809.4 372.5,804.4 380.5,795.5 388.5,785.9 396.5,782.9 404.5,780.4 412.5,809.4 420.5,806.2 428.5,806.2 436.5,803.9 444.5,800.1 452.5,801.4 460.5,798.1 468.5,792.3 476.5,797.3 484.5,801.9 492.5,805.7 500.5,815.3 508.5,812.5 516.5,811.5 524.5,810.2 532.5,817.0 540.5,827.1 548.5,836.0 556.5,832.2 564.5,832.2 572.5,834.0 580.5,838.0 588.5,841.8 596.5,842.3 604.5,848.6 612.5,844.3 620.5,845.3 628.5,834.2 636.5,839.0 644.5,843.1 652.5,840.5 660.5,834.0 668.5,840.3 676.5,831.4 684.5,844.1 692.5,846.1 700.5,847.3 708.5,840.3 716.5,842.3 724.5,841.0 732.5,848.1 740.5,842.3 748.5,846.1 756.5,842.3 764.5,840.3 772.5,843.1 780.5,848.1 788.5,856.2 796.5,855.4 804.5,855.4 812.5,857.5 820.5,851.1 828.5,820.8 836.5,819.0 844.5,811.2 852.5,806.9 860.5,810.2 868.5,806.9 876.5,815.8 884.5,823.8 892.5,840.3 900.5,840.3 908.5,844.1 916.5,847.9 924.5,861.8 932.5,865.8 940.5,879.4 948.5,883.5 956.5,887.8 964.5,882.2 972.5,885.3 980.5,886.5 988.5,878.4 996.5,873.9 1004.5,865.0 1012.5,848.1 1020.5,832.2 1028.5,817.5 1036.5,825.4 1044.5,834.7 1052.5,836.0 1060.5,826.4 1068.5,856.2 1076.5,868.1 1084.5,852.4 1092.5,853.7 1100.5,852.4 1108.5,858.2 1116.5,862.0 1124.5,866.3 1132.5,859.2 1140.5,846.6 1148.5,845.3 1156.5,847.3 1164.5,830.4 1172.5,831.7 1180.5,841.0 1188.5,838.5 1196.5,838.5 1204.5,854.9 1212.5,845.2 1220.5,841.1 1228.5,834.9 1236.5,823.5 1244.5,822.5 1252.5,826.0 1260.5,820.4 1268.5,813.8 1276.5,812.1 1284.5,815.2 1292.5,814.2 1300.5,813.2 1308.5,811.5 1316.5,811.5 1324.5,810.1 1332.5,815.2 1340.5,822.5" fill="none" stroke="#1e90ff" stroke-width="1" shape-rendering="crispEdges"/></g>
<text x="0" y="761" font-size="9.5px" fill="#000" stroke="#000" stroke-width="0.2" textLength="68" lengthAdjust="spacingAndGlyphs">RSI(14) 57.4458</text>
<defs>
 <linearGradient id="gUp" x1="0" y1="0" x2="0" y2="1">
  <stop offset="0" stop-color="#f85858"/><stop offset="1" stop-color="#de3030"/>
 </linearGradient>
 <linearGradient id="gLo" x1="0" y1="0" x2="0" y2="1">
  <stop offset="0" stop-color="#e23838"/><stop offset="0.5" stop-color="#cc1c1c"/><stop offset="1" stop-color="#b00202"/>
 </linearGradient>
 <linearGradient id="gBtn" x1="0" y1="0" x2="0" y2="1">
  <stop offset="0" stop-color="#f4f4f4"/><stop offset="0.45" stop-color="#e6e6e6"/><stop offset="0.5" stop-color="#d8d8d8"/><stop offset="1" stop-color="#d0d0d0"/>
 </linearGradient>
</defs>
<!-- header -->
<polygon points="0.5,31.5 6.5,31.5 3.5,27.5" fill="#000"/>
<g font-size="9.3px" fill="#000" stroke="#000" stroke-width="0.2"><text x="11" y="33" textLength="50" lengthAdjust="spacingAndGlyphs">JPN225-,H4</text><text x="67" y="33" textLength="33" lengthAdjust="spacingAndGlyphs">23737.5</text><text x="103" y="33" textLength="33" lengthAdjust="spacingAndGlyphs">23737.5</text><text x="139" y="33" textLength="33" lengthAdjust="spacingAndGlyphs">23677.5</text><text x="175" y="33" textLength="33" lengthAdjust="spacingAndGlyphs">23682.5</text></g>
<!-- trade panel -->
<g shape-rendering="crispEdges">
 <rect x="0" y="41" width="51" height="24" fill="url(#gUp)"/>
 <rect x="0" y="41" width="51" height="1" fill="#c01010"/>
 <rect x="50" y="41" width="1" height="24" fill="#c01010"/>
 <rect x="0" y="65" width="108" height="40" fill="url(#gLo)"/>
 <rect x="3" y="64" width="44" height="1" fill="#7a0000"/>
 <rect x="3" y="65" width="44" height="1" fill="#f07070"/>
 <rect x="166" y="41" width="52" height="24" fill="url(#gUp)"/>
 <rect x="166" y="41" width="52" height="1" fill="#c01010"/>
 <rect x="166" y="41" width="1" height="24" fill="#c01010"/>
 <rect x="110" y="65" width="108" height="40" fill="url(#gLo)"/>
 <rect x="170" y="64" width="44" height="1" fill="#7a0000"/>
 <rect x="170" y="65" width="44" height="1" fill="#f07070"/>
 <!-- spinner -->
 <rect x="53" y="41" width="111" height="22" fill="#b8bcc4"/>
 <rect x="54" y="42" width="109" height="20" fill="#ffffff"/>
 <rect x="54" y="42" width="20" height="20" fill="#a8acb4"/>
 <rect x="55" y="43" width="18" height="18" fill="url(#gBtn)"/>
 <rect x="143" y="42" width="20" height="20" fill="#a8acb4"/>
 <rect x="144" y="43" width="18" height="18" fill="url(#gBtn)"/>
</g>
<polygon points="61,50 67,50 64,53" fill="#4a5ac8"/>
<polygon points="150,52 156,52 153,48.5" fill="#4a5ac8"/>
<text x="139" y="56" font-size="12px" fill="#000" text-anchor="end">1.00</text>
<g fill="#fff">
 <text x="11" y="57" font-size="11.5px" textLength="26" lengthAdjust="spacingAndGlyphs">SELL</text>
 <text x="179.5" y="57" font-size="11.5px" textLength="23" lengthAdjust="spacingAndGlyphs">BUY</text>
 <text x="14.8" y="96.2" font-size="13px" font-weight="bold" textLength="35" lengthAdjust="spacingAndGlyphs">23681</text>
 <text x="124.8" y="96.2" font-size="13px" font-weight="bold" textLength="35" lengthAdjust="spacingAndGlyphs">23704</text>
 <circle cx="56.5" cy="94.2" r="2.1"/>
 <circle cx="167.3" cy="94.2" r="2.1"/>
</g>
<path fill="#fff" fill-rule="evenodd" d="M60.40,83.80 a8.10,12.30 0 1,0 16.20,0 a8.10,12.30 0 1,0 -16.20,0 Z M62.80,83.80 a5.70,10.70 0 1,0 11.40,0 a5.70,10.70 0 1,0 -11.40,0 Z M171.80,83.80 a8.10,12.30 0 1,0 16.20,0 a8.10,12.30 0 1,0 -16.20,0 Z M174.20,83.80 a5.70,10.70 0 1,0 11.40,0 a5.70,10.70 0 1,0 -11.40,0 Z"/>
<!-- big chinese text: 多空转折点 -->
<g transform="translate(1373,264.5) scale(1,0.96)">
 <g transform="translate(1,1)" stroke="#000" stroke-width="2.6" fill="none" stroke-linecap="square" stroke-linejoin="miter" id="cjkS">
  <path d="M14,1 L6,8 M10,4 H22 L14,11 L3,15 M10,7.5 L14,9.5 M17,12 L7,20 M12,16.5 H27 L17,25 L3,29 M13,19.5 L17,22.5"/>
  <path transform="translate(33.5,0)" d="M15,0 L16,4 M4,9 V5 H27 V9 M12,8 L6,14 M19,8 L26,13 M7,17 H23 M15,17 V28 M2,28 H28"/>
  <path transform="translate(66.5,0)" d="M1,6 H11 M6,1 L2,14 H11 M7,9 V29 M0,21 L12,19 M14,8 H28 M21,1 L19,14 M13,14 H30 M17,19 H27 L21,24 L26,29"/>
  <path transform="translate(100,0)" d="M0,9 H10 M6,1 V28 L3,26 M0,20 L11,16 M26,2 L15,6 V17 Q15,25 11,29 M15,14 H29 M22,14 V30"/>
  <path transform="translate(133,0)" d="M14,0 V12 M14,6 H25 M5,12 V21 M5,12 H25 V21 M5,20 H25 M4,24 L1,29 M11,25 L12,29 M18,25 L20,29 M25,24 L29,29"/>
 </g>
 <g stroke="#00ff00" stroke-width="2.6" fill="none" stroke-linecap="square" stroke-linejoin="miter">
  <path d="M14,1 L6,8 M10,4 H22 L14,11 L3,15 M10,7.5 L14,9.5 M17,12 L7,20 M12,16.5 H27 L17,25 L3,29 M13,19.5 L17,22.5"/>
  <path transform="translate(33.5,0)" d="M15,0 L16,4 M4,9 V5 H27 V9 M12,8 L6,14 M19,8 L26,13 M7,17 H23 M15,17 V28 M2,28 H28"/>
  <path transform="translate(66.5,0)" d="M1,6 H11 M6,1 L2,14 H11 M7,9 V29 M0,21 L12,19 M14,8 H28 M21,1 L19,14 M13,14 H30 M17,19 H27 L21,24 L26,29"/>
  <path transform="translate(100,0)" d="M0,9 H10 M6,1 V28 L3,26 M0,20 L11,16 M26,2 L15,6 V17 Q15,25 11,29 M15,14 H29 M22,14 V30"/>
  <path transform="translate(133,0)" d="M14,0 V12 M14,6 H25 M5,12 V21 M5,12 H25 V21 M5,20 H25 M4,24 L1,29 M11,25 L12,29 M18,25 L20,29 M25,24 L29,29"/>
 </g>
</g>
</svg>
</body></html>
